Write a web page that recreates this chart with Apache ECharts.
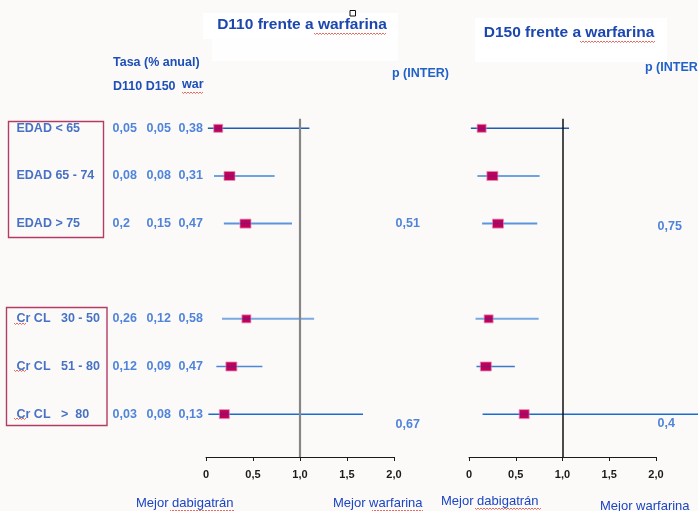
<!DOCTYPE html>
<html>
<head>
<meta charset="utf-8">
<script src="https://cdn.jsdelivr.net/npm/echarts@6/dist/echarts.min.js"></script>
<style>
  html, body { margin: 0; padding: 0; background: #fbfaf9; }
  #chart { width: 698px; height: 511px; }
</style>
</head>
<body>
<div id="chart"></div>
<script>
// Subgroups (row slot 3 is the gap between the age and CrCl blocks)
const rowLabels = ['EDAD < 65', 'EDAD 65 - 74', 'EDAD > 75', 'Cr CL   30 - 50', 'Cr CL   51 - 80', 'Cr CL   >  80'];
const rowSlot = [0, 1, 2, 4, 5, 6];

// Annual event rates (%)
const rateD110 = ['0,05', '0,08', '0,2', '0,26', '0,12', '0,03'];
const rateD150 = ['0,05', '0,08', '0,15', '0,12', '0,09', '0,08'];
const rateWar = ['0,38', '0,31', '0,47', '0,58', '0,47', '0,13'];

// Hazard ratios with 95% CI, D110 vs warfarin
const d110HR = [0.13, 0.25, 0.42, 0.43, 0.27, 0.195];
const d110Lo = [0.02, 0.085, 0.19, 0.17, 0.11, 0.025];
const d110Hi = [1.10, 0.73, 0.915, 1.15, 0.60, 1.67];

// Hazard ratios with 95% CI, D150 vs warfarin
const d150HR = [0.135, 0.25, 0.31, 0.21, 0.18, 0.59];
const d150Lo = [0.02, 0.09, 0.14, 0.07, 0.08, 0.145];
const d150Hi = [1.07, 0.755, 0.73, 0.745, 0.49, 2.5];

// Interaction p values (age block, CrCl block)
const pInterD110 = ['0,51', '0,67'];
const pInterD150 = ['0,75', '0,4'];
const pInterSlot = [2, 6];

const tickLabels = ['0', '0,5', '1,0', '1,5', '2,0'];

// Marker / whisker styling per row
const boxW = [9, 11, 11, 9, 11, 10];
const boxH = [8, 9, 9, 8, 9, 9];
const whiskerColorL = ['#1f5db2', '#6ea2e2', '#5b95de', '#7aa8e2', '#4d86d6', '#1c6bd0'];
const whiskerColorR = ['#1f5db2', '#6ea2e2', '#5b95de', '#7aa8e2', '#3f78c8', '#1c6bd0'];
const whiskerWidth = [1.5, 2, 2, 2, 1.6, 1.5];

const FONT = '"Liberation Sans", Arial, sans-serif';
const C_TITLE = '#1c47ae';
const C_LABEL = '#1a4fb6';
const C_NUM = '#2467d2';

function forestData(hr, lo, hi) {
  return hr.map((v, i) => [rowSlot[i], lo[i], v, hi[i], i]);
}

function makeRender(colors) {
  return function (params, api) {
    const y = api.value(0);
    const i = api.value(4);
    const c = api.coord([api.value(2), y]);
    const a = api.coord([api.value(1), y]);
    const b = api.coord([api.value(3), y]);
    const w = boxW[i], h = boxH[i];
    return {
      type: 'group',
      children: [
        { type: 'line', shape: { x1: a[0], y1: a[1], x2: b[0], y2: b[1] },
          style: { stroke: colors[i], lineWidth: whiskerWidth[i] } },
        { type: 'rect', shape: { x: c[0] - w / 2, y: c[1] - h / 2, width: w, height: h },
          style: { fill: '#c10059', stroke: 'rgba(232,140,182,0.8)', lineWidth: 1 } },
        { type: 'line', shape: { x1: c[0] - w / 2, y1: c[1], x2: c[0] + w / 2, y2: c[1] },
          style: { stroke: '#2a3690', lineWidth: 1.3, opacity: 0.45 } }
      ]
    };
  };
}

function xAxisCfg(idx) {
  return {
    gridIndex: idx, type: 'value', min: 0, max: 2, interval: 0.5,
    axisLine: { show: true, onZero: false, lineStyle: { color: '#1a1a1a', width: 1 } },
    axisTick: { show: true, length: 4, lineStyle: { color: '#1a1a1a' } },
    splitLine: { show: false },
    axisLabel: {
      margin: 12, fontFamily: FONT, fontSize: 11, fontWeight: 'bold', color: '#1e1a16',
      formatter: v => tickLabels[Math.round(v / 0.5)]
    }
  };
}

function yAxisCfg(idx) {
  return { gridIndex: idx, type: 'value', inverse: true, min: -0.2, max: 6.9, show: false };
}

// Red wavy spell-check underline
function squiggle(x1, x2, y) {
  const pts = [];
  let up = true;
  for (let x = x1; x <= x2; x += 1.5) { pts.push([x, up ? y : y + 1.5]); up = !up; }
  return { type: 'polyline', shape: { points: pts }, style: { stroke: '#e0463c', lineWidth: 0.8, fill: null }, z: 10 };
}

function text(x, y, s, opts) {
  return {
    type: 'text', x: x, y: y, z: 10,
    style: Object.assign({ text: s, font: 'bold 12.5px ' + FONT, fill: C_LABEL, textVerticalAlign: 'middle' }, opts || {})
  };
}

const chart = echarts.init(document.getElementById('chart'), null, { renderer: 'canvas' });

const option = {
  backgroundColor: '#fbfaf9',
  animation: false,
  grid: [
    { left: 206, right: 304, top: 118.8, bottom: 54 },
    { left: 469, right: 42, top: 118.8, bottom: 54 }
  ],
  xAxis: [xAxisCfg(0), xAxisCfg(1)],
  yAxis: [yAxisCfg(0), yAxisCfg(1)],
  graphic: [
    // white panels behind the headings
    { type: 'rect', shape: { x: 203, y: 13, width: 195, height: 26 }, style: { fill: '#ffffff' }, z: 0 },
    { type: 'rect', shape: { x: 212, y: 39, width: 186, height: 22 }, style: { fill: '#fefefe' }, z: 0 },
    { type: 'rect', shape: { x: 475, y: 18, width: 192, height: 44 }, style: { fill: '#ffffff' }, z: 0 },
    { type: 'rect', shape: { x: 350, y: 10.5, width: 5.5, height: 5.5 }, style: { fill: '#ffffff', stroke: '#111', lineWidth: 1 }, z: 10 },

    text(302, 25, 'D110 frente a warfarina', { font: 'bold 15.5px ' + FONT, fill: C_TITLE, textAlign: 'center' }),
    text(569, 33, 'D150 frente a warfarina', { font: 'bold 15.5px ' + FONT, fill: C_TITLE, textAlign: 'center' }),
    squiggle(314, 387, 33),
    squiggle(580, 655, 41),

    text(113, 63, 'Tasa (% anual)', { fill: '#1d4fb8' }),
    text(113, 87, 'D110 D150', { fill: '#1d4fb8' }),
    text(182, 85, 'war', { fill: '#1d4fb8' }),
    squiggle(182, 203, 92),
    text(392, 74, 'p (INTER)', { fill: '#2262c8' }),
    text(645, 68, 'p (INTER)', { fill: '#2262c8' }),

    // subgroup frames
    { type: 'rect', shape: { x: 8.5, y: 121.5, width: 95, height: 116 }, style: { fill: null, stroke: '#b33c66', lineWidth: 1.4 }, z: 5 },
    { type: 'rect', shape: { x: 6.5, y: 307.5, width: 100.5, height: 118 }, style: { fill: null, stroke: '#b33c66', lineWidth: 1.4 }, z: 5 },
    squiggle(14, 27, 323),
    squiggle(14, 27, 370),
    squiggle(14, 27, 418),

    text(136, 503, 'Mejor dabigatrán', { font: '13px ' + FONT, fill: '#1b45c2' }),
    text(333, 503, 'Mejor warfarina', { font: '13px ' + FONT, fill: '#1b45c2' }),
    text(441, 501, 'Mejor dabigatrán', { font: '13px ' + FONT, fill: '#1b45c2' }),
    text(600, 506, 'Mejor warfarina', { font: '13px ' + FONT, fill: '#1b45c2' }),
    squiggle(170, 235, 510),
    squiggle(372, 423, 510),
    squiggle(475, 541, 508),
    squiggle(639, 693, 513)
  ],
  series: [
    {
      type: 'custom', xAxisIndex: 0, yAxisIndex: 0, clip: false, z: 3,
      renderItem: makeRender(whiskerColorL),
      data: forestData(d110HR, d110Lo, d110Hi)
    },
    {
      type: 'custom', xAxisIndex: 1, yAxisIndex: 1, clip: false, z: 3,
      renderItem: makeRender(whiskerColorR),
      data: forestData(d150HR, d150Lo, d150Hi)
    },
    // reference line at HR = 1 and the row texts (left panel)
    {
      type: 'scatter', xAxisIndex: 0, yAxisIndex: 0, symbolSize: 1, z: 4,
      itemStyle: { color: 'transparent' },
      data: rowSlot.map(s => [0, s]),
      label: {
        show: true, position: [-189, 0.5], align: 'left', verticalAlign: 'middle',
        formatter: p => '{n|' + rowLabels[p.dataIndex] + '}{a|' + rateD110[p.dataIndex] + '}{b|' + rateD150[p.dataIndex] + '}{c|' + rateWar[p.dataIndex] + '}',
        rich: {
          n: { width: 96, fontFamily: FONT, fontSize: 12.5, fontWeight: 'bold', color: C_LABEL },
          a: { width: 34, fontFamily: FONT, fontSize: 12.5, fontWeight: 'bold', color: C_NUM },
          b: { width: 32, fontFamily: FONT, fontSize: 12.5, fontWeight: 'bold', color: C_NUM },
          c: { width: 30, fontFamily: FONT, fontSize: 12.5, fontWeight: 'bold', color: C_NUM }
        }
      },
      markLine: {
        silent: true, symbol: 'none', label: { show: false },
        lineStyle: { color: '#868686', width: 2.2, type: 'solid' },
        data: [{ xAxis: 1 }]
      }
    },
    {
      type: 'scatter', xAxisIndex: 1, yAxisIndex: 1, symbolSize: 1, z: 2,
      itemStyle: { color: 'transparent' },
      data: [],
      markLine: {
        silent: true, symbol: 'none', label: { show: false },
        lineStyle: { color: '#111111', width: 1.5, type: 'solid' },
        data: [{ xAxis: 1 }]
      }
    },
    // interaction p values
    {
      type: 'scatter', xAxisIndex: 0, yAxisIndex: 0, symbolSize: 1, z: 4,
      itemStyle: { color: 'transparent' },
      data: pInterSlot.map(s => [2, s]),
      label: {
        show: true, position: 'right', distance: 1,
        fontFamily: FONT, fontSize: 12.5, fontWeight: 'bold', color: C_NUM,
        formatter: p => pInterD110[p.dataIndex]
      },
      labelLayout: p => ({ dy: p.dataIndex === 1 ? 10 : 0 })
    },
    {
      type: 'scatter', xAxisIndex: 1, yAxisIndex: 1, symbolSize: 1, z: 4,
      itemStyle: { color: 'transparent' },
      data: pInterSlot.map(s => [2, s]),
      label: {
        show: true, position: 'right', distance: 1,
        fontFamily: FONT, fontSize: 12.5, fontWeight: 'bold', color: C_NUM,
        formatter: p => pInterD150[p.dataIndex]
      },
      labelLayout: p => ({ dy: p.dataIndex === 1 ? 9 : 3 })
    }
  ]
};

chart.setOption(option);
</script>
</body>
</html>
